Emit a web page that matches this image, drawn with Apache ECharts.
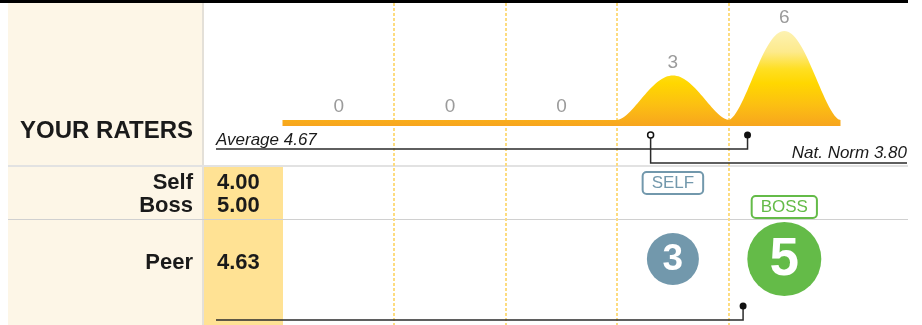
<!DOCTYPE html>
<html>
<head>
<meta charset="utf-8">
<title>Your raters</title>
<script src="https://cdn.jsdelivr.net/npm/echarts@6/dist/echarts.min.js"></script>
<style>
  html, body { margin: 0; padding: 0; background: #fff; }
  #chart { width: 922px; height: 325px; }
</style>
</head>
<body>
<div id="chart"></div>
<script>
// rating scale and how many raters gave each rating
const ratings = [1, 2, 3, 4, 5];
const raterCounts = [0, 0, 0, 3, 6];
// number of peers per rating (the bubbles)
const peerCounts = [0, 0, 0, 3, 5];
const selfRating = 4;
const bossRating = 5;
const scoreNames = ['Self', 'Boss', 'Peer'];
const scoreValues = [4.00, 5.00, 4.63];
const average = 4.67;
const natNorm = 3.80;

const FONT = '"Liberation Sans", Arial, Helvetica, sans-serif';
const INK = '#1a1a1a';
const SELF_COLOR = '#7298ac';
const BOSS_COLOR = '#64bb48';

// row layout (pixels)
const rowTop = 166;       // top of Self/Boss row
const peerTop = 219;      // top of Peer row
const scoreY = [183, 206, 263];
const tableLeft = 8, labelRight = 193, colLeft = 203, colRight = 283, lineRight = 907;

const maxCount = Math.max.apply(null, raterCounts);
const chart = echarts.init(document.getElementById('chart'));

// bell shaped bump over one rating band
function renderBump(params, api) {
  const r = api.value(0);
  const c = api.value(1);
  const a = api.coord([r - 0.5, 0]);
  const m = api.coord([r, c]);
  const b = api.coord([r + 0.5, 0]);
  const top = api.coord([r, maxCount])[1];
  const base = a[1];
  const band = 6;
  const h = (b[0] - a[0]) / 2;
  const pts = [[a[0] - 0.5, base + band]];
  for (let i = 0; i <= 60; i++) {
    const u = -1 + i / 30;
    const f = Math.pow((1 + Math.cos(Math.PI * u)) / 2, 0.8);
    let x = m[0] + u * h;
    if (i === 0) x -= 0.5;
    if (i === 60) x += 0.5;
    pts.push([x, base - (base - m[1]) * f]);
  }
  pts.push([b[0] + 0.5, base + band]);
  const fill = new echarts.graphic.LinearGradient(0, top, 0, base + band, [
    { offset: 0, color: '#fdf2b2' },
    { offset: 0.22, color: '#fdea8c' },
    { offset: 0.4, color: '#ffdf22' },
    { offset: 0.55, color: '#ffd700' },
    { offset: 0.78, color: '#fcbf12' },
    { offset: 1, color: '#f7a51e' }
  ], true);
  return {
    type: 'group',
    children: [
      { type: 'polygon', shape: { points: pts }, style: { fill: fill } },
      {
        type: 'text',
        style: {
          text: String(c), x: m[0], y: m[1] - 13,
          align: 'center', verticalAlign: 'middle',
          textAlign: 'center', textVerticalAlign: 'middle',
          fill: '#9b9b9b', font: '19px ' + FONT
        }
      }
    ]
  };
}

function renderDivider(params, api) {
  const x = Math.round(api.coord([api.value(0), 0])[0]);
  return {
    type: 'line',
    shape: { x1: x, y1: 3, x2: x, y2: 325 },
    style: { stroke: '#fddc80', lineWidth: 2, lineDash: [3, 2] }
  };
}

function renderMarker(params, api) {
  const kind = params.dataIndex;
  const x = api.coord([api.value(0), 0])[0];
  const line = { stroke: '#2b2b2b', lineWidth: 1.5, fill: null };
  if (kind === 0) { // average
    return {
      type: 'group',
      children: [
        { type: 'path', shape: { pathData: 'M216,149 H' + x + ' V135' }, style: line },
        { type: 'circle', shape: { cx: x, cy: 135, r: 3.5 }, style: { fill: '#111' } },
        {
          type: 'text',
          style: {
            text: 'Average ' + average.toFixed(2), x: 216, y: 140,
            align: 'left', verticalAlign: 'middle', textAlign: 'left', textVerticalAlign: 'middle',
            fill: INK, font: 'italic 17px ' + FONT
          }
        }
      ]
    };
  }
  if (kind === 1) { // national norm
    return {
      type: 'group',
      children: [
        { type: 'path', shape: { pathData: 'M' + x + ',138 V163 H' + lineRight }, style: line },
        { type: 'circle', shape: { cx: x, cy: 135, r: 3 }, style: { fill: '#fff', stroke: '#111', lineWidth: 1.5 } },
        {
          type: 'text',
          style: {
            text: 'Nat. Norm ' + natNorm.toFixed(2), x: lineRight, y: 153,
            align: 'right', verticalAlign: 'middle', textAlign: 'right', textVerticalAlign: 'middle',
            fill: INK, font: 'italic 17px ' + FONT
          }
        }
      ]
    };
  }
  // peer average
  return {
    type: 'group',
    children: [
      { type: 'path', shape: { pathData: 'M216,320 H' + x + ' V306' }, style: line },
      { type: 'circle', shape: { cx: x, cy: 306, r: 3.5 }, style: { fill: '#111' } }
    ]
  };
}

function renderTag(params, api) {
  const x = api.coord([api.value(0), 0])[0];
  const isSelf = params.dataIndex === 0;
  const color = isSelf ? SELF_COLOR : BOSS_COLOR;
  return {
    type: 'text',
    style: {
      text: isSelf ? 'SELF' : 'BOSS',
      x: x, y: isSelf ? 183 : 207,
      align: 'center', verticalAlign: 'middle', textAlign: 'center', textVerticalAlign: 'middle',
      fill: color, font: '17px ' + FONT,
      borderColor: color, borderWidth: 2, borderRadius: 3,
      padding: [2, 8, 1, 8], backgroundColor: '#fff'
    }
  };
}

function renderBubble(params, api) {
  const x = api.coord([api.value(0), 0])[0];
  const n = api.value(1);
  if (!n) return null;
  const r = 9.5 + 5.5 * n;
  const color = api.value(0) === bossRating ? BOSS_COLOR : SELF_COLOR;
  return {
    type: 'group',
    children: [
      { type: 'circle', shape: { cx: x, cy: 259, r: r }, style: { fill: color } },
      {
        type: 'text',
        style: {
          text: String(n), x: x, y: 260,
          align: 'center', verticalAlign: 'middle', textAlign: 'center', textVerticalAlign: 'middle',
          fill: '#fff', font: 'bold ' + Math.round(r * 1.42) + 'px ' + FONT
        }
      }
    ]
  };
}

const graphics = [
  { type: 'rect', shape: { x: tableLeft, y: 3, width: colLeft - tableLeft, height: 322 }, style: { fill: '#fdf6e7' } },
  { type: 'rect', shape: { x: colLeft, y: rowTop, width: colRight - colLeft, height: 325 - rowTop }, style: { fill: '#ffe294' } },
  { type: 'line', shape: { x1: colLeft, y1: 3, x2: colLeft, y2: 325 }, style: { stroke: '#e4e0d8', lineWidth: 2 } },
  { type: 'line', shape: { x1: tableLeft, y1: rowTop, x2: lineRight + 1, y2: rowTop }, style: { stroke: '#e2e2e2', lineWidth: 2 } },
  { type: 'line', shape: { x1: tableLeft, y1: peerTop + 0.5, x2: lineRight + 1, y2: peerTop + 0.5 }, style: { stroke: '#d0d0d0', lineWidth: 1 } },
  { type: 'rect', shape: { x: 0, y: 0, width: lineRight + 1, height: 3 }, style: { fill: '#000' } },
  {
    type: 'text',
    style: { text: 'YOUR RATERS', x: labelRight, y: 131, align: 'right', verticalAlign: 'middle', fill: INK, font: 'bold 24px ' + FONT }
  }
];
scoreNames.forEach(function (name, i) {
  graphics.push({
    type: 'text',
    style: { text: name, x: labelRight, y: scoreY[i], align: 'right', verticalAlign: 'middle', fill: INK, font: 'bold 22px ' + FONT }
  });
  graphics.push({
    type: 'text',
    style: { text: scoreValues[i].toFixed(2), x: 217, y: scoreY[i], align: 'left', verticalAlign: 'middle', fill: INK, font: 'bold 22px ' + FONT }
  });
});

chart.setOption({
  animation: false,
  graphic: { elements: graphics },
  grid: [
    { left: colRight, right: 922 - 840, top: 31, height: 89 },
    { left: colRight, right: 922 - 840, top: 0, bottom: 0 }
  ],
  xAxis: [
    { gridIndex: 0, type: 'value', min: ratings[0] - 0.5, max: ratings[ratings.length - 1] + 0.5, show: false },
    { gridIndex: 1, type: 'value', min: ratings[0] - 0.5, max: ratings[ratings.length - 1] + 0.5, show: false }
  ],
  yAxis: [
    { gridIndex: 0, type: 'value', min: 0, max: maxCount, show: false },
    { gridIndex: 1, type: 'value', min: 0, max: 1, show: false }
  ],
  series: [
    {
      type: 'custom', name: 'dividers', xAxisIndex: 1, yAxisIndex: 1, z: 1,
      renderItem: renderDivider,
      data: ratings.slice(1).map(function (r) { return [r - 0.5]; })
    },
    {
      type: 'custom', name: 'raters', xAxisIndex: 0, yAxisIndex: 0, z: 3,
      renderItem: renderBump,
      data: ratings.map(function (r, i) { return [r, raterCounts[i]]; })
    },
    {
      type: 'custom', name: 'markers', xAxisIndex: 1, yAxisIndex: 1, z: 4,
      renderItem: renderMarker,
      data: [[average], [natNorm], [scoreValues[2]]]
    },
    {
      type: 'custom', name: 'tags', xAxisIndex: 1, yAxisIndex: 1, z: 4,
      renderItem: renderTag,
      data: [[selfRating], [bossRating]]
    },
    {
      type: 'custom', name: 'peers', xAxisIndex: 1, yAxisIndex: 1, z: 4,
      renderItem: renderBubble,
      data: ratings.map(function (r, i) { return [r, peerCounts[i]]; })
    }
  ]
});
</script>
</body>
</html>
